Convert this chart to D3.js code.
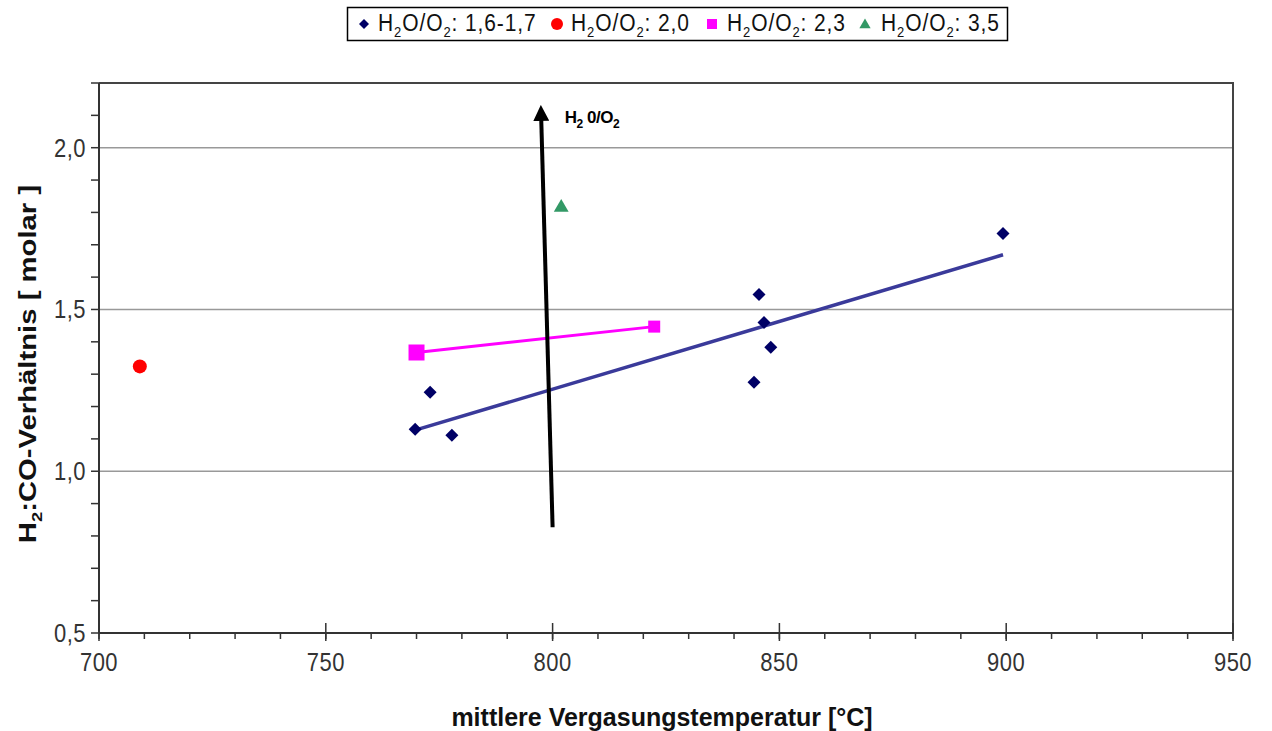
<!DOCTYPE html>
<html><head><meta charset="utf-8">
<script src="https://cdn.jsdelivr.net/npm/d3@7"></script>
<style>body{margin:0;background:#fff}svg{display:block}text{font-family:Arial,"Liberation Sans",sans-serif}</style>
</head><body><svg id="c" width="1272" height="731"></svg>
<script>
// Data
const xTicks = [700, 750, 800, 850, 900, 950];
const yTicks = [0.5, 1.0, 1.5, 2.0];
const yTickLabels = ["0,5", "1,0", "1,5", "2,0"];
const seriesNames = ["H2O/O2: 1,6-1,7", "H2O/O2: 2,0", "H2O/O2: 2,3", "H2O/O2: 3,5"];
const blueX = [769.7, 773.0, 777.8, 845.5, 846.6, 848.1, 844.4, 899.3];
const blueY = [1.13, 1.244, 1.111, 1.546, 1.46, 1.383, 1.275, 1.735];
const blueTrendX = [769.7, 899.3];
const blueTrendY = [1.127, 1.669];
const redX = [709.0];
const redY = [1.324];
const magentaX = [770.0, 822.4];
const magentaY = [1.367, 1.447];
const greenX = [801.9];
const greenY = [1.815];
const arrowX = [800.0, 797.4];
const arrowY = [0.827, 2.136];

const svg = d3.select("#c");
const L = 99, R = 1233, T = 83, B = 633;
const x = d3.scaleLinear().domain([700, 950]).range([L, R]);
const y = d3.scaleLinear().domain([0.5, 2.2]).range([B, T]);

// gridlines
svg.append("g").selectAll("line").data(yTicks.filter(v => v > 0.5)).join("line")
  .attr("x1", L).attr("x2", R).attr("y1", d => y(d)).attr("y2", d => y(d))
  .attr("stroke", "#999").attr("stroke-width", 1.5);

// frame top/right
svg.append("path").attr("d", `M${L},${T}H${R}V${B}`).attr("fill", "none").attr("stroke", "#444").attr("stroke-width", 2);

// x axis
const xMinor = d3.range(700, 951, 10);
svg.append("g").selectAll("line").data(xMinor).join("line")
  .attr("x1", d => x(d)).attr("x2", d => x(d)).attr("y1", B).attr("y2", B + 6)
  .attr("stroke", "#333").attr("stroke-width", 1.5);
svg.append("g").selectAll("line").data(xTicks).join("line")
  .attr("x1", d => x(d)).attr("x2", d => x(d)).attr("y1", B - 10).attr("y2", B + 8)
  .attr("stroke", "#333").attr("stroke-width", 1.5);
svg.append("line").attr("x1", L).attr("x2", R).attr("y1", B).attr("y2", B).attr("stroke", "#333").attr("stroke-width", 2);
svg.append("g").selectAll("text").data(xTicks).join("text")
  .attr("transform", d => `translate(${x(d)},671) scale(1,1.2)`).attr("text-anchor", "middle")
  .attr("font-size", 22).attr("letter-spacing", 0.5).attr("fill", "#333").text(d => d);

// y axis
const yMinor = d3.range(5, 23).map(v => v / 10);
svg.append("g").selectAll("line").data(yMinor).join("line")
  .attr("x1", L - 8).attr("x2", L).attr("y1", d => y(d)).attr("y2", d => y(d))
  .attr("stroke", "#333").attr("stroke-width", 1.5);
svg.append("line").attr("x1", L).attr("x2", L).attr("y1", T).attr("y2", B).attr("stroke", "#333").attr("stroke-width", 2);
svg.append("g").selectAll("text").data(yTicks).join("text")
  .attr("transform", d => `translate(86,${y(d) + 9}) scale(1,1.2)`).attr("text-anchor", "end")
  .attr("font-size", 22).attr("letter-spacing", 0.5).attr("fill", "#333").text((d, i) => yTickLabels[i]);

// axis titles
svg.append("text").attr("x", 662).attr("y", 726).attr("text-anchor", "middle")
  .attr("font-size", 25).attr("font-weight", "bold").attr("fill", "#111")
  .text("mittlere Vergasungstemperatur [°C]");
const yt = svg.append("text").attr("transform", "translate(36,364) rotate(-90) scale(1.22,1)")
  .attr("text-anchor", "middle").attr("font-size", 24).attr("font-weight", "bold").attr("fill", "#111");
yt.append("tspan").text("H");
yt.append("tspan").attr("font-size", 15).attr("dy", 6).text("2");
yt.append("tspan").attr("dy", -6).text(":CO-Verhältnis [ molar ]");

// series
const line = d3.line().x(d => x(d[0])).y(d => y(d[1]));
svg.append("path").datum(blueTrendX.map((v, i) => [v, blueTrendY[i]])).attr("d", line)
  .attr("stroke", "#3a3a9a").attr("stroke-width", 3.5).attr("fill", "none");
svg.append("path").datum(magentaX.map((v, i) => [v, magentaY[i]])).attr("d", line)
  .attr("stroke", "#ff00ff").attr("stroke-width", 3).attr("fill", "none");

const diamond = "M0,-6.5L6.5,0L0,6.5L-6.5,0Z";
svg.append("g").selectAll("path").data(blueX.map((v, i) => [v, blueY[i]])).join("path")
  .attr("d", diamond).attr("transform", d => `translate(${x(d[0])},${y(d[1])})`).attr("fill", "#000066");
svg.append("g").selectAll("circle").data(redX.map((v, i) => [v, redY[i]])).join("circle")
  .attr("cx", d => x(d[0])).attr("cy", d => y(d[1])).attr("r", 7).attr("fill", "#ff0000");
svg.append("g").selectAll("rect").data(magentaX.map((v, i) => [v, magentaY[i]])).join("rect")
  .attr("x", (d, i) => x(d[0]) - (i === 0 ? 8 : 6)).attr("y", (d, i) => y(d[1]) - (i === 0 ? 8 : 6))
  .attr("width", (d, i) => i === 0 ? 16 : 12).attr("height", (d, i) => i === 0 ? 16 : 12).attr("fill", "#ff00ff");
const tri = d3.symbol().type(d3.symbolTriangle).size(95);
svg.append("g").selectAll("path").data(greenX.map((v, i) => [v, greenY[i]])).join("path")
  .attr("d", tri).attr("transform", d => `translate(${x(d[0])},${y(d[1])})`).attr("fill", "#339966");

// arrow
svg.append("defs").append("marker").attr("id", "ah").attr("viewBox", "0 0 10 10")
  .attr("refX", 2).attr("refY", 5).attr("markerWidth", 4).attr("markerHeight", 4)
  .attr("markerUnits", "strokeWidth").attr("orient", "auto")
  .append("path").attr("d", "M0,0L10,5L0,10z").attr("fill", "#000");
const ax0 = x(arrowX[0]), ay0 = y(arrowY[0]), ax1 = x(arrowX[1]), ay1 = y(arrowY[1]);
const len = Math.hypot(ax1 - ax0, ay1 - ay0);
const shorten = 14;
svg.append("line").attr("x1", ax0).attr("y1", ay0)
  .attr("x2", ax1 - (ax1 - ax0) / len * shorten).attr("y2", ay1 - (ay1 - ay0) / len * shorten)
  .attr("stroke", "#000").attr("stroke-width", 4).attr("marker-end", "url(#ah)");
const at = svg.append("text").attr("x", ax1 + 24).attr("y", ay1 + 19).attr("font-size", 17)
  .attr("font-weight", "bold").attr("letter-spacing", -0.5).attr("fill", "#000");
at.append("tspan").text("H");
at.append("tspan").attr("font-size", 12).attr("dy", 5).text("2");
at.append("tspan").attr("dy", -5).text(" 0/O");
at.append("tspan").attr("font-size", 12).attr("dy", 5).text("2");

// legend
svg.append("rect").attr("x", 347.5).attr("y", 7.5).attr("width", 660).attr("height", 33)
  .attr("fill", "#fff").attr("stroke", "#000").attr("stroke-width", 1.5);
const legX = [364, 557, 712, 865];
const legText = [378, 571, 727, 881];
const lg = svg.append("g");
lg.append("path").attr("d", "M0,-5L5,0L0,5L-5,0Z").attr("transform", `translate(${legX[0]},24)`).attr("fill", "#000066");
lg.append("circle").attr("cx", legX[1]).attr("cy", 24).attr("r", 6).attr("fill", "#ff0000");
lg.append("rect").attr("x", legX[2] - 5).attr("y", 19).attr("width", 10).attr("height", 10).attr("fill", "#ff00ff");
lg.append("path").attr("d", d3.symbol().type(d3.symbolTriangle).size(55)).attr("transform", `translate(${legX[3]},25)`).attr("fill", "#339966");
seriesNames.forEach((s, i) => {
  const t = lg.append("text").attr("transform", `translate(${legText[i]},31) scale(1,1.1)`)
    .attr("font-size", 21).attr("letter-spacing", 0.9).attr("fill", "#111");
  const rest = s.slice("H2O/O2".length);
  t.append("tspan").text("H");
  t.append("tspan").attr("font-size", 13).attr("dy", 5).text("2");
  t.append("tspan").attr("dy", -5).text("O/O");
  t.append("tspan").attr("font-size", 13).attr("dy", 5).text("2");
  t.append("tspan").attr("dy", -5).text(rest);
});
</script></body></html>
